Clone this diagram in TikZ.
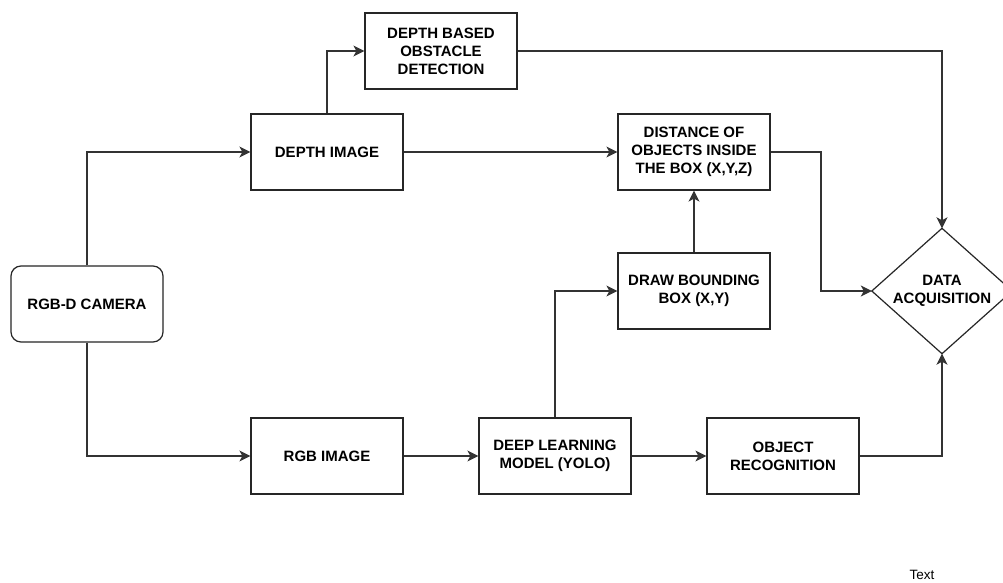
\documentclass[tikz,border=0pt]{standalone}
\usepackage{fontspec}
\setmainfont{Liberation Sans}
\usetikzlibrary{arrows.meta}
\begin{document}
\begin{tikzpicture}[x=1pt,y=-1pt,
  every node/.style={font=\fontsize{15}{18}\selectfont\bfseries, align=center},
  box/.style={draw=black!85, line width=1.2pt, minimum width=152pt, minimum height=76pt, inner sep=2pt},
  rbox/.style={box, rounded corners=10pt},
  link/.style={draw=black!80, line width=1.2pt, -{Stealth[length=11pt,width=11pt,inset=3pt]}}]
  \path[use as bounding box, fill=white] (0,0) rectangle (1003,583);
  \clip (0,0) rectangle (1003,583);

  % blocks
  \node[rbox] (cam) at (87,304) {RGB-D CAMERA};
  \node[box] (depth) at (327,152) {DEPTH IMAGE};
  \node[box] (dbod) at (441,51) {DEPTH BASED\\OBSTACLE\\DETECTION};
  \node[box] (dist) at (694,152) {DISTANCE OF\\OBJECTS INSIDE\\THE BOX (X,Y,Z)};
  \node[box] (bbox) at (694,291) {DRAW BOUNDING\\BOX (X,Y)};
  \node[box] (rgb) at (327,456) {RGB IMAGE};
  \node[box] (dl) at (555,456) {DEEP LEARNING\\MODEL (YOLO)};
  \node[box] (orec) at (783,456) {OBJECT\\RECOGNITION};

  % decision diamond
  \node[minimum width=140pt, minimum height=125pt, inner sep=0pt] (dia) at (942,291) {DATA\\ACQUISITION};
  \draw[line width=1.2pt, draw=black!85] (dia.north) -- (dia.east) -- (dia.south) -- (dia.west) -- cycle;

  \node[font=\fontsize{13.5}{16}\selectfont] (lbl) at (922,575) {Text};

  % connectors
  \coordinate (bend) at (821,152);
  \draw[link] (cam.north) |- (depth.west);
  \draw[link] (cam.south) |- (rgb.west);
  \draw[link] (depth.north) |- (dbod.west);
  \draw[link] (depth.east) -- (dist.west);
  \draw[link] (dbod.east) -| (dia.north);
  \draw[link] (dist.east) -- (bend) |- (dia.west);
  \draw[link] (bbox.north) -- (dist.south);
  \draw[link] (rgb.east) -- (dl.west);
  \draw[link] (dl.north) |- (bbox.west);
  \draw[link] (dl.east) -- (orec.west);
  \draw[link] (orec.east) -| (dia.south);
\end{tikzpicture}
\end{document}
